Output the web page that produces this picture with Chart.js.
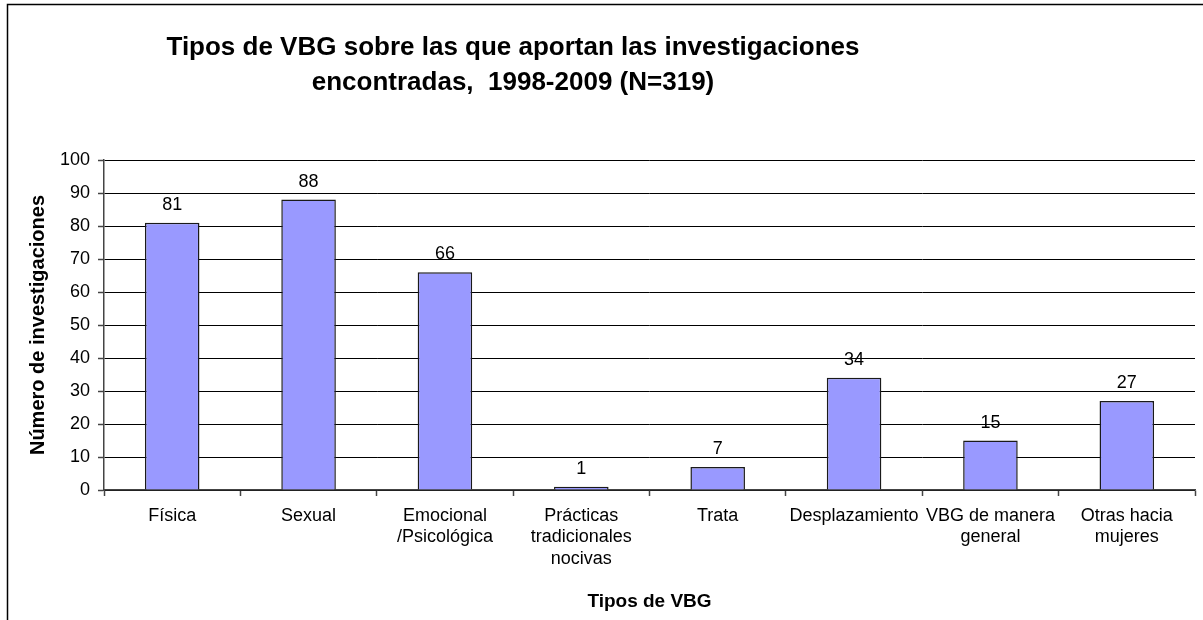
<!DOCTYPE html>
<html>
<head>
<meta charset="utf-8">
<script src="https://cdn.jsdelivr.net/npm/chart.js@4/dist/chart.umd.min.js"></script>
<style>
  body { margin: 0; background: #fff; }
  #wrap { width: 1203px; height: 620px; }
</style>
</head>
<body>
<div id="wrap"><canvas id="vbgChart" width="1203" height="620"></canvas></div>
<script>
// datos del gráfico
const categories = [
    "Física",
    "Sexual",
    ["Emocional", "/Psicológica"],
    ["Prácticas", "tradicionales", "nocivas"],
    "Trata",
    "Desplazamiento",
    ["VBG de manera", "general"],
    ["Otras hacia", "mujeres"]
];
const investigaciones = [81, 88, 66, 1, 7, 34, 15, 27];
const yTicks = [0, 10, 20, 30, 40, 50, 60, 70, 80, 90, 100];
const titleLines = [
    "Tipos de VBG sobre las que aportan las investigaciones",
    "encontradas,  1998-2009 (N=319)"
];

const FONT = "'Liberation Sans', Arial, sans-serif";

// marco exterior + título
const framePlugin = {
    id: 'frameAndTitle',
    beforeDraw(chart) {
        const ctx = chart.ctx;
        ctx.save();
        ctx.fillStyle = '#fff';
        ctx.fillRect(0, 0, chart.width, chart.height);
        ctx.strokeStyle = '#000';
        ctx.lineWidth = 1.5;
        ctx.beginPath();
        ctx.moveTo(7.5, chart.height);
        ctx.lineTo(7.5, 4.5);
        ctx.lineTo(chart.width, 4.5);
        ctx.stroke();

        ctx.fillStyle = '#000';
        ctx.font = "bold 26px " + FONT;
        ctx.textAlign = 'center';
        ctx.textBaseline = 'alphabetic';
        ctx.fillText(titleLines[0], 513, 55);
        ctx.fillText(titleLines[1], 513, 90);
        ctx.restore();
    }
};

// etiquetas de valor encima de cada barra
const valueLabels = {
    id: 'valueLabels',
    afterDatasetsDraw(chart) {
        const ctx = chart.ctx;
        const meta = chart.getDatasetMeta(0);
        ctx.save();
        ctx.fillStyle = '#000';
        ctx.font = "18px " + FONT;
        ctx.textAlign = 'center';
        ctx.textBaseline = 'alphabetic';
        meta.data.forEach((bar, i) => {
            ctx.fillText(String(investigaciones[i]), bar.x, bar.y - 13);
        });
        ctx.restore();
    }
};

new Chart(document.getElementById('vbgChart'), {
    type: 'bar',
    data: {
        labels: categories,
        datasets: [{
            data: investigaciones,
            backgroundColor: '#9999ff',
            borderColor: '#1a1a1a',
            borderWidth: 1.5,
            barPercentage: 0.4,
            categoryPercentage: 1.0
        }]
    },
    options: {
        responsive: false,
        animation: false,
        layout: { padding: { top: 160, right: 8, left: 0, bottom: 0 } },
        plugins: {
            legend: { display: false },
            tooltip: { enabled: false },
            title: { display: false }
        },
        scales: {
            x: {
                afterFit(scale) { scale.height = 130; },
                grid: {
                    offset: true,
                    drawOnChartArea: false,
                    tickLength: 6,
                    tickColor: '#444',
                    tickWidth: 1.5
                },
                border: { color: '#444', width: 1.5 },
                ticks: {
                    color: '#000',
                    padding: 9,
                    maxRotation: 0,
                    autoSkip: false,
                    font: { family: FONT, size: 18, lineHeight: 1.2 }
                },
                title: {
                    display: true,
                    text: 'Tipos de VBG',
                    color: '#000',
                    padding: { bottom: 7 },
                    font: { family: FONT, size: 19, weight: 'bold' }
                }
            },
            y: {
                min: 0,
                max: 100,
                afterFit(scale) { scale.width = 104; },
                afterBuildTicks(scale) {
                    scale.ticks = yTicks.map(v => ({ value: v }));
                },
                grid: {
                    color: '#000',
                    tickLength: 6,
                    tickColor: '#444',
                    tickWidth: 1.5
                },
                border: { color: '#444', width: 1.5 },
                ticks: {
                    color: '#000',
                    padding: 8,
                    font: { family: FONT, size: 18 }
                },
                title: {
                    display: true,
                    text: 'Número de investigaciones',
                    color: '#000',
                    padding: { top: 26 },
                    font: { family: FONT, size: 20, weight: 'bold' }
                }
            }
        }
    },
    plugins: [framePlugin, valueLabels]
});
</script>
</body>
</html>
